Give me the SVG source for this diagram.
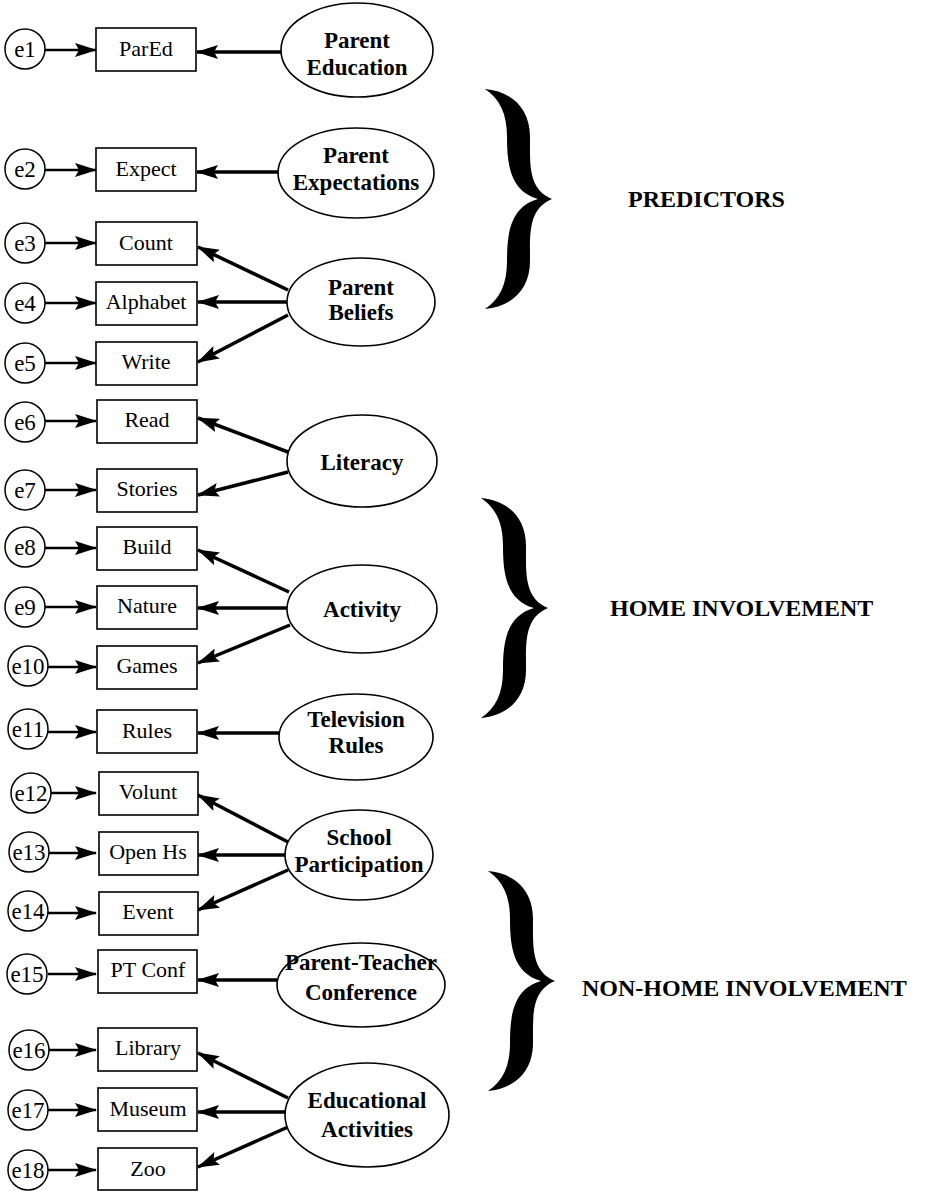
<svg xmlns="http://www.w3.org/2000/svg" width="925" height="1191" viewBox="0 0 925 1191">
<style>
.bg{fill:#fff}
.box{fill:#fff;stroke:#000;stroke-width:1.6}
.err{fill:#fff;stroke:#000;stroke-width:1.5}
.lat{fill:#fff;stroke:#000;stroke-width:1.6}
.t{font-family:"Liberation Serif","Times New Roman",serif;font-size:22px;fill:#000;text-anchor:middle}
.te{font-family:"Liberation Serif","Times New Roman",serif;font-size:23px;fill:#000;text-anchor:middle}
.tl{font-family:"Liberation Serif","Times New Roman",serif;font-size:23px;font-weight:bold;fill:#000;text-anchor:middle}
.tg{font-family:"Liberation Serif","Times New Roman",serif;font-size:24px;font-weight:bold;fill:#000}
.ea{stroke:#000;stroke-width:2.5;fill:none;marker-end:url(#ah)}
.la{stroke:#000;stroke-width:3.5;fill:none;marker-end:url(#ah)}
.brace{fill:#000}
</style>
<defs>
<marker id="ah" markerUnits="userSpaceOnUse" markerWidth="22" markerHeight="14" refX="21" refY="7" orient="auto">
<path d="M0,0 L22,7 L0,14 L4,7 z" fill="#000"/>
</marker>
<path id="brc" d="M-67,-110 C-42,-108 -22,-92 -22,-62 C-22,-35 -24,-10 0,0 C-24,10 -22,35 -22,62 C-22,92 -42,108 -67,110 C-52,100 -45,85 -45,62 C-45,35 -42,8 -14,0 C-42,-8 -45,-35 -45,-62 C-45,-85 -52,-100 -67,-110 Z"/>
</defs>
<rect class="bg" x="0" y="0" width="925" height="1191"/>

<g id="connectors">
<line class="ea" x1="44" y1="50" x2="96" y2="50"/>
<line class="ea" x1="44" y1="170" x2="96" y2="170"/>
<line class="ea" x1="44" y1="243" x2="96" y2="243"/>
<line class="ea" x1="44" y1="303" x2="96" y2="303"/>
<line class="ea" x1="44" y1="363" x2="96" y2="363"/>
<line class="ea" x1="44" y1="421" x2="96" y2="421"/>
<line class="ea" x1="44" y1="490" x2="96" y2="490"/>
<line class="ea" x1="44" y1="548" x2="96" y2="548"/>
<line class="ea" x1="44" y1="607" x2="96" y2="607"/>
<line class="ea" x1="48" y1="667" x2="96" y2="667"/>
<line class="ea" x1="48" y1="732" x2="96" y2="732"/>
<line class="ea" x1="48" y1="793" x2="96" y2="793"/>
<line class="ea" x1="48" y1="853" x2="96" y2="853"/>
<line class="ea" x1="48" y1="913" x2="96" y2="913"/>
<line class="ea" x1="48" y1="974" x2="96" y2="974"/>
<line class="ea" x1="48" y1="1050" x2="96" y2="1050"/>
<line class="ea" x1="48" y1="1110" x2="96" y2="1110"/>
<line class="ea" x1="48" y1="1170" x2="96" y2="1170"/>

<line class="la" x1="282" y1="52" x2="197" y2="52"/>
<line class="la" x1="279" y1="172" x2="197" y2="172"/>
<line class="la" x1="288" y1="290" x2="198" y2="247"/>
<line class="la" x1="287" y1="302" x2="198" y2="302"/>
<line class="la" x1="288" y1="315" x2="198" y2="362"/>
<line class="la" x1="288" y1="452" x2="198" y2="418"/>
<line class="la" x1="288" y1="472" x2="198" y2="495"/>
<line class="la" x1="289" y1="592" x2="198" y2="550"/>
<line class="la" x1="287" y1="608" x2="198" y2="608"/>
<line class="la" x1="290" y1="625" x2="198" y2="663"/>
<line class="la" x1="279" y1="733" x2="198" y2="733"/>
<line class="la" x1="288" y1="842" x2="198" y2="795"/>
<line class="la" x1="285" y1="855" x2="198" y2="855"/>
<line class="la" x1="288" y1="870" x2="198" y2="910"/>
<line class="la" x1="277" y1="980" x2="198" y2="980"/>
<line class="la" x1="288" y1="1098" x2="198" y2="1053"/>
<line class="la" x1="285" y1="1112" x2="198" y2="1112"/>
<line class="la" x1="288" y1="1127" x2="198" y2="1167"/>
</g>

<g id="e1"><circle class="err" cx="25" cy="49" r="20"/><text class="te" x="25" y="57">e1</text></g>
<g id="e2"><circle class="err" cx="25" cy="169" r="20"/><text class="te" x="25" y="177">e2</text></g>
<g id="e3"><circle class="err" cx="25" cy="243" r="20"/><text class="te" x="25" y="251">e3</text></g>
<g id="e4"><circle class="err" cx="25" cy="303" r="20"/><text class="te" x="25" y="311">e4</text></g>
<g id="e5"><circle class="err" cx="25" cy="363" r="20"/><text class="te" x="25" y="371">e5</text></g>
<g id="e6"><circle class="err" cx="25" cy="422" r="20"/><text class="te" x="25" y="430">e6</text></g>
<g id="e7"><circle class="err" cx="25" cy="490" r="20"/><text class="te" x="25" y="498">e7</text></g>
<g id="e8"><circle class="err" cx="25" cy="547" r="20"/><text class="te" x="25" y="555">e8</text></g>
<g id="e9"><circle class="err" cx="25" cy="607" r="20"/><text class="te" x="25" y="615">e9</text></g>
<g id="e10"><circle class="err" cx="28" cy="666" r="20"/><text class="te" x="28" y="674">e10</text></g>
<g id="e11"><circle class="err" cx="28" cy="729" r="20"/><text class="te" x="28" y="737">e11</text></g>
<g id="e12"><circle class="err" cx="31" cy="793" r="20"/><text class="te" x="31" y="801">e12</text></g>
<g id="e13"><circle class="err" cx="29" cy="852" r="20"/><text class="te" x="29" y="860">e13</text></g>
<g id="e14"><circle class="err" cx="28" cy="911" r="20"/><text class="te" x="28" y="919">e14</text></g>
<g id="e15"><circle class="err" cx="27" cy="974" r="20"/><text class="te" x="27" y="982">e15</text></g>
<g id="e16"><circle class="err" cx="29" cy="1050" r="20"/><text class="te" x="29" y="1058">e16</text></g>
<g id="e17"><circle class="err" cx="28" cy="1110" r="20"/><text class="te" x="28" y="1118">e17</text></g>
<g id="e18"><circle class="err" cx="28" cy="1170" r="20"/><text class="te" x="28" y="1178">e18</text></g>

<g id="ParEd"><rect class="box" x="96" y="28" width="100" height="43"/><text class="t" x="146" y="56">ParEd</text></g>
<g id="Expect"><rect class="box" x="96" y="148" width="100" height="43"/><text class="t" x="146" y="176">Expect</text></g>
<g id="Count"><rect class="box" x="96" y="222" width="101" height="43"/><text class="t" x="146" y="250">Count</text></g>
<g id="Alphabet"><rect class="box" x="96" y="282" width="101" height="43"/><text class="t" x="146" y="309">Alphabet</text></g>
<g id="Write"><rect class="box" x="96" y="342" width="101" height="43"/><text class="t" x="146" y="369">Write</text></g>
<g id="Read"><rect class="box" x="97" y="400" width="100" height="43"/><text class="t" x="147" y="427">Read</text></g>
<g id="Stories"><rect class="box" x="97" y="469" width="100" height="43"/><text class="t" x="147" y="496">Stories</text></g>
<g id="Build"><rect class="box" x="97" y="527" width="100" height="43"/><text class="t" x="147" y="554">Build</text></g>
<g id="Nature"><rect class="box" x="97" y="586" width="100" height="43"/><text class="t" x="147" y="613">Nature</text></g>
<g id="Games"><rect class="box" x="97" y="646" width="100" height="43"/><text class="t" x="147" y="673">Games</text></g>
<g id="Rules"><rect class="box" x="97" y="710" width="100" height="43"/><text class="t" x="147" y="738">Rules</text></g>
<g id="Volunt"><rect class="box" x="99" y="772" width="99" height="43"/><text class="t" x="148" y="799">Volunt</text></g>
<g id="OpenHs"><rect class="box" x="99" y="832" width="99" height="43"/><text class="t" x="148" y="859">Open Hs</text></g>
<g id="Event"><rect class="box" x="99" y="892" width="99" height="43"/><text class="t" x="148" y="919">Event</text></g>
<g id="PTConf"><rect class="box" x="98" y="950" width="99" height="43"/><text class="t" x="148" y="977">PT Conf</text></g>
<g id="Library"><rect class="box" x="98" y="1028" width="99" height="43"/><text class="t" x="148" y="1055">Library</text></g>
<g id="Museum"><rect class="box" x="98" y="1088" width="99" height="43"/><text class="t" x="148" y="1116">Museum</text></g>
<g id="Zoo"><rect class="box" x="98" y="1148" width="99" height="42"/><text class="t" x="148" y="1176">Zoo</text></g>

<g id="ParentEducation"><ellipse class="lat" cx="357" cy="50" rx="76" ry="47"/><text class="tl" x="357" y="48">Parent</text><text class="tl" x="357" y="75">Education</text></g>
<g id="ParentExpectations"><ellipse class="lat" cx="356" cy="173" rx="78" ry="45"/><text class="tl" x="356" y="163">Parent</text><text class="tl" x="356" y="190">Expectations</text></g>
<g id="ParentBeliefs"><ellipse class="lat" cx="361" cy="302" rx="74" ry="44"/><text class="tl" x="361" y="295">Parent</text><text class="tl" x="361" y="320">Beliefs</text></g>
<g id="Literacy"><ellipse class="lat" cx="362" cy="461" rx="75" ry="46"/><text class="tl" x="362" y="470">Literacy</text></g>
<g id="Activity"><ellipse class="lat" cx="362" cy="609" rx="75" ry="44"/><text class="tl" x="362" y="617">Activity</text></g>
<g id="TelevisionRules"><ellipse class="lat" cx="356" cy="737" rx="77" ry="43"/><text class="tl" x="356" y="727">Television</text><text class="tl" x="356" y="753">Rules</text></g>
<g id="SchoolParticipation"><ellipse class="lat" cx="359" cy="855" rx="74" ry="45"/><text class="tl" x="359" y="845">School</text><text class="tl" x="359" y="872">Participation</text></g>
<g id="ParentTeacherConference"><ellipse class="lat" cx="361" cy="985" rx="84" ry="42"/><text class="tl" x="361" y="970">Parent-Teacher</text><text class="tl" x="361" y="1000">Conference</text></g>
<g id="EducationalActivities"><ellipse class="lat" cx="367" cy="1115" rx="82" ry="52"/><text class="tl" x="367" y="1108">Educational</text><text class="tl" x="367" y="1137">Activities</text></g>

<g id="Predictors"><use href="#brc" class="brace" transform="translate(552,199)"/><text class="tg" x="628" y="207">PREDICTORS</text></g>
<g id="HomeInvolvement"><use href="#brc" class="brace" transform="translate(548,608)"/><text class="tg" x="610" y="616">HOME INVOLVEMENT</text></g>
<g id="NonHomeInvolvement"><use href="#brc" class="brace" transform="translate(555,981)"/><text class="tg" x="582" y="996">NON-HOME INVOLVEMENT</text></g>
</svg>
